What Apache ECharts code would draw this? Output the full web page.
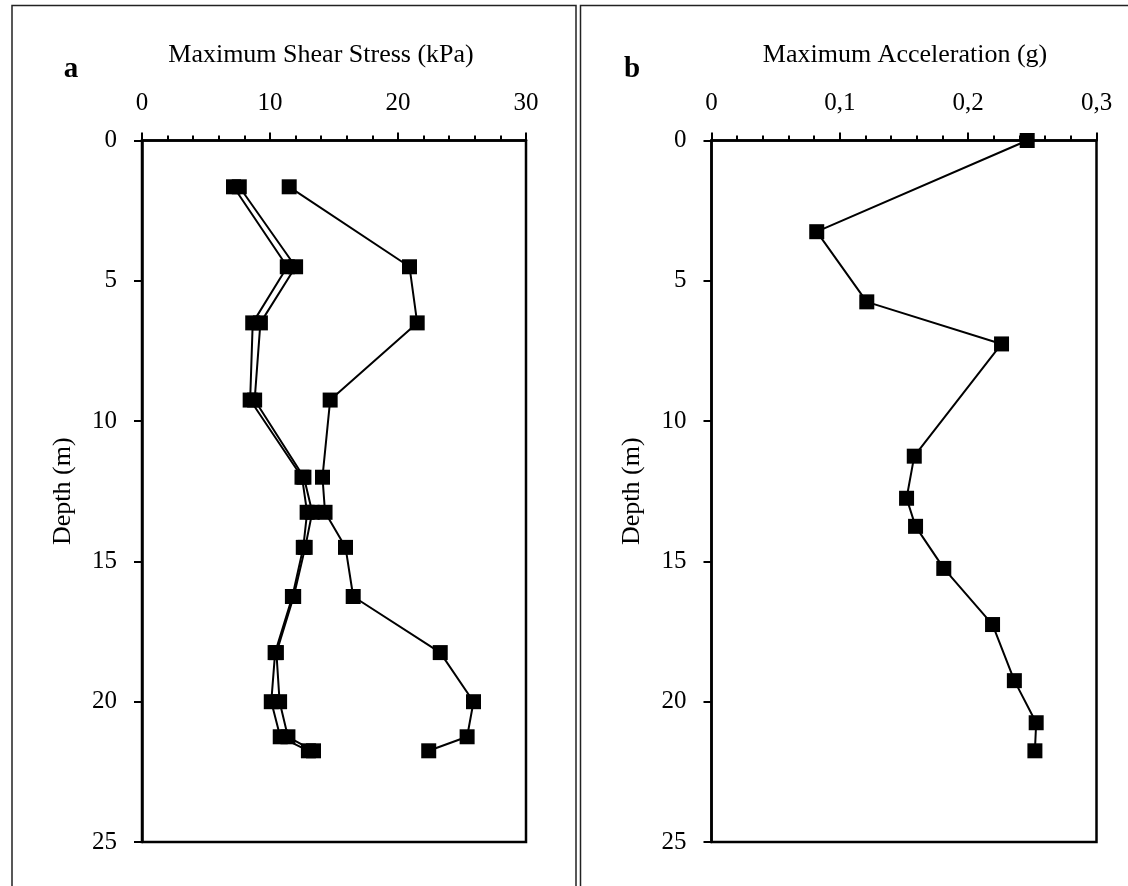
<!DOCTYPE html>
<html>
<head>
<meta charset="utf-8">
<script src="https://cdn.jsdelivr.net/npm/echarts@6/dist/echarts.min.js"></script>
<style>
  html, body { margin: 0; padding: 0; background: #fff; }
  #chart { width: 1128px; height: 886px; }
</style>
</head>
<body>
<div id="chart"></div>
<script>
// Panel a: maximum shear stress profiles (kPa) against depth (m)
const stressDepth = [1.65, 4.5, 6.5, 9.25, 12.0, 13.25, 14.5, 16.25, 18.25, 20.0, 21.25, 21.75];
const stressA = [7.15, 11.35, 8.65, 8.45, 12.5, 12.9, 12.6, 11.75, 10.4, 10.1, 10.8, 13.0];
const stressB = [7.6, 12.0, 9.25, 8.8, 12.65, 13.3, 12.75, 11.85, 10.5, 10.75, 11.4, 13.4];
const stressC = [11.5, 20.9, 21.5, 14.7, 14.1, 14.3, 15.9, 16.5, 23.3, 25.9, 25.4, 22.4];

// Panel b: maximum acceleration (g) against depth (m)
const accelDepth = [0, 3.25, 5.75, 7.25, 11.25, 12.75, 13.75, 15.25, 17.25, 19.25, 20.75, 21.75];
const accelValues = [0.246, 0.082, 0.121, 0.226, 0.158, 0.152, 0.159, 0.181, 0.219, 0.236, 0.253, 0.252];

// Axis tick labels
const stressTickLabels = ['0', '10', '20', '30'];
const accelTickLabels = ['0', '0,1', '0,2', '0,3'];
const depthTickLabels = ['0', '5', '10', '15', '20', '25'];

const FONT = "'Liberation Serif', 'Times New Roman', serif";

function pairs(xs, ys) { return ys.map((y, i) => [xs[i], y]); }

function xAxisCfg(gridIndex, max, interval, labels) {
  return {
    gridIndex, type: 'value', position: 'top', min: 0, max, interval,
    axisLine: { show: true, lineStyle: { color: '#000', width: 2.5 } },
    axisTick: { show: true, length: 8, lineStyle: { color: '#000', width: 2 } },
    minorTick: { show: true, splitNumber: 5, length: 5, lineStyle: { color: '#000', width: 2 } },
    splitLine: { show: false },
    axisLabel: {
      margin: 25, color: '#000', fontFamily: FONT, fontSize: 25,
      formatter: v => labels[Math.round(v / interval)]
    }
  };
}

function yAxisCfg(gridIndex) {
  return {
    gridIndex, type: 'value', inverse: true, min: 0, max: 25, interval: 5,
    name: 'Depth (m)', nameLocation: 'middle', nameGap: 66, nameRotate: 90,
    nameTextStyle: { color: '#000', fontFamily: FONT, fontSize: 26 },
    axisLine: { show: true, lineStyle: { color: '#000', width: 2.5 } },
    axisTick: { show: true, length: 8, lineStyle: { color: '#000', width: 2 } },
    splitLine: { show: false },
    axisLabel: {
      margin: 25, color: '#000', fontFamily: FONT, fontSize: 25,
      formatter: v => depthTickLabels[Math.round(v / 5)]
    }
  };
}

function lineSeries(xi, data) {
  return {
    type: 'line', xAxisIndex: xi, yAxisIndex: xi, data,
    symbol: 'rect', symbolSize: 15, showSymbol: true,
    lineStyle: { color: '#000', width: 2 },
    itemStyle: { color: '#000' },
    clip: false, silent: true
  };
}

const chart = echarts.init(document.getElementById('chart'), null, { renderer: 'canvas' });
chart.setOption({
  animation: false,
  backgroundColor: '#fff',
  grid: [
    { left: 142, top: 140.5, width: 384, height: 701.5, show: true, borderColor: '#000', borderWidth: 2.5, backgroundColor: 'transparent' },
    { left: 711.5, top: 140.5, width: 385, height: 701.5, show: true, borderColor: '#000', borderWidth: 2.5, backgroundColor: 'transparent' }
  ],
  xAxis: [
    xAxisCfg(0, 30, 10, stressTickLabels),
    xAxisCfg(1, 0.3, 0.1, accelTickLabels)
  ],
  yAxis: [yAxisCfg(0), yAxisCfg(1)],
  series: [
    lineSeries(0, pairs(stressA, stressDepth)),
    lineSeries(0, pairs(stressB, stressDepth)),
    lineSeries(0, pairs(stressC, stressDepth)),
    lineSeries(1, pairs(accelValues, accelDepth))
  ],
  graphic: [
    { type: 'rect', shape: { x: 12, y: 5.5, width: 564, height: 900 }, style: { fill: null, stroke: '#222', lineWidth: 1.5 }, silent: true },
    { type: 'rect', shape: { x: 580.5, y: 5.5, width: 600, height: 900 }, style: { fill: null, stroke: '#222', lineWidth: 1.5 }, silent: true },
    { type: 'text', x: 321, y: 55, style: { text: 'Maximum Shear Stress (kPa)', fill: '#000', font: "26px " + FONT, textAlign: 'center', textVerticalAlign: 'middle' } },
    { type: 'text', x: 905, y: 55, style: { text: 'Maximum Acceleration (g)', fill: '#000', font: "26px " + FONT, textAlign: 'center', textVerticalAlign: 'middle' } },
    { type: 'text', x: 71, y: 70, style: { text: 'a', fill: '#000', font: "bold 29px " + FONT, textAlign: 'center', textVerticalAlign: 'middle' } },
    { type: 'text', x: 632, y: 70, style: { text: 'b', fill: '#000', font: "bold 29px " + FONT, textAlign: 'center', textVerticalAlign: 'middle' } }
  ]
});
</script>
</body>
</html>
